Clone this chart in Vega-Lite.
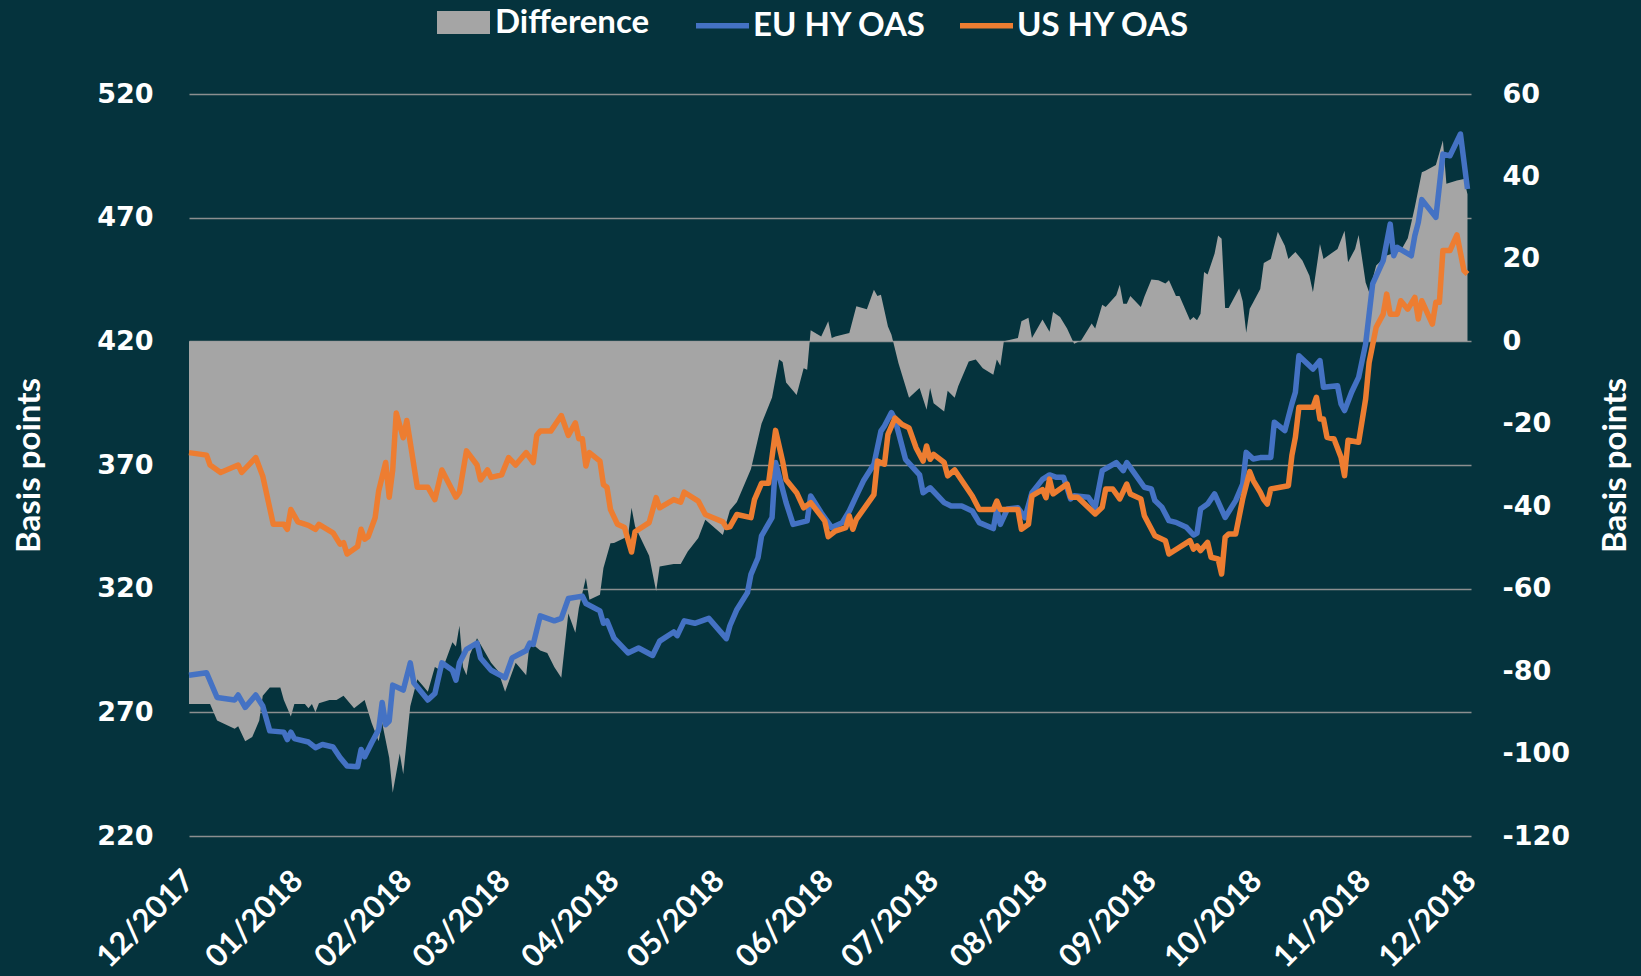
{
"$schema": "https://vega.github.io/schema/vega-lite/v6.json",
"width": 1282, "height": 742,
"autosize": {"type": "none"},
"padding": {"left": 189, "top": 94, "right": 170, "bottom": 140},
"background": "#05333d",
"config": {"view": {"stroke": null}, "font": "Lato"},
"datasets": {
"diff": [
{"date":"2017-12-01","diff":-88},{"date":"2017-12-07","diff":-88},{"date":"2017-12-09","diff":-92},{"date":"2017-12-14","diff":-94},{"date":"2017-12-15","diff":-93.4},{"date":"2017-12-17","diff":-97},{"date":"2017-12-19","diff":-96},{"date":"2017-12-21","diff":-92},{"date":"2017-12-22","diff":-86},{"date":"2017-12-24","diff":-84},{"date":"2017-12-27","diff":-84},{"date":"2017-12-28","diff":-87},{"date":"2017-12-30","diff":-91},{"date":"2017-12-31","diff":-88},
{"date":"2018-01-03","diff":-88},{"date":"2018-01-04","diff":-89},{"date":"2018-01-05","diff":-88},{"date":"2018-01-06","diff":-90},{"date":"2018-01-07","diff":-87.8},{"date":"2018-01-10","diff":-87},{"date":"2018-01-12","diff":-87},{"date":"2018-01-14","diff":-86},{"date":"2018-01-17","diff":-89},{"date":"2018-01-20","diff":-87},{"date":"2018-01-22","diff":-92.6},{"date":"2018-01-24","diff":-97},{"date":"2018-01-25","diff":-92.6},{"date":"2018-01-27","diff":-101},{"date":"2018-01-28","diff":-109.5},{"date":"2018-01-30","diff":-100},{"date":"2018-01-31","diff":-105},
{"date":"2018-02-02","diff":-88.5},{"date":"2018-02-04","diff":-82},{"date":"2018-02-06","diff":-84},{"date":"2018-02-07","diff":-85},{"date":"2018-02-09","diff":-79},{"date":"2018-02-11","diff":-80},{"date":"2018-02-14","diff":-73},{"date":"2018-02-15","diff":-74},{"date":"2018-02-16","diff":-69},{"date":"2018-02-17","diff":-79},{"date":"2018-02-18","diff":-81},{"date":"2018-02-19","diff":-76},{"date":"2018-02-21","diff":-72},{"date":"2018-02-23","diff":-75},{"date":"2018-02-25","diff":-78},{"date":"2018-02-27","diff":-80},
{"date":"2018-03-01","diff":-85},{"date":"2018-03-04","diff":-78},{"date":"2018-03-07","diff":-81},{"date":"2018-03-08","diff":-73},{"date":"2018-03-09","diff":-73.6},{"date":"2018-03-11","diff":-75},{"date":"2018-03-13","diff":-75.6},{"date":"2018-03-15","diff":-79},{"date":"2018-03-17","diff":-81.6},{"date":"2018-03-19","diff":-66},{"date":"2018-03-21","diff":-70.7},{"date":"2018-03-22","diff":-64.7},{"date":"2018-03-24","diff":-57.4},{"date":"2018-03-25","diff":-62.7},{"date":"2018-03-28","diff":-61.5},{"date":"2018-03-29","diff":-55},{"date":"2018-03-31","diff":-49},
{"date":"2018-04-01","diff":-48.9},{"date":"2018-04-05","diff":-47.3},{"date":"2018-04-06","diff":-40.4},{"date":"2018-04-07","diff":-44.9},{"date":"2018-04-11","diff":-52},{"date":"2018-04-13","diff":-60.6},{"date":"2018-04-14","diff":-54.6},{"date":"2018-04-18","diff":-54},{"date":"2018-04-20","diff":-54},{"date":"2018-04-22","diff":-51},{"date":"2018-04-25","diff":-47.7},{"date":"2018-04-27","diff":-43.3},
{"date":"2018-05-02","diff":-47},{"date":"2018-05-04","diff":-41},{"date":"2018-05-06","diff":-39},{"date":"2018-05-10","diff":-31},{"date":"2018-05-13","diff":-20},{"date":"2018-05-16","diff":-13.6},{"date":"2018-05-18","diff":-4.4},{"date":"2018-05-19","diff":-5},{"date":"2018-05-20","diff":-10},{"date":"2018-05-23","diff":-13},{"date":"2018-05-25","diff":-6.5},{"date":"2018-05-26","diff":-6.9},{"date":"2018-05-27","diff":2.7},{"date":"2018-05-30","diff":1.2},
{"date":"2018-06-01","diff":4.9},{"date":"2018-06-02","diff":0.8},{"date":"2018-06-03","diff":1.2},{"date":"2018-06-07","diff":2},{"date":"2018-06-09","diff":8.5},{"date":"2018-06-12","diff":7.8},{"date":"2018-06-14","diff":12.5},{"date":"2018-06-15","diff":11},{"date":"2018-06-16","diff":11.3},{"date":"2018-06-18","diff":3.6},{"date":"2018-06-19","diff":1.6},{"date":"2018-06-21","diff":-5.3},{"date":"2018-06-24","diff":-13.7},{"date":"2018-06-27","diff":-11.3},{"date":"2018-06-29","diff":-16.6},{"date":"2018-06-30","diff":-11.3},
{"date":"2018-07-01","diff":-15},{"date":"2018-07-04","diff":-17},{"date":"2018-07-05","diff":-12},{"date":"2018-07-07","diff":-13.7},{"date":"2018-07-08","diff":-10.9},{"date":"2018-07-11","diff":-4.9},{"date":"2018-07-13","diff":-4.4},{"date":"2018-07-15","diff":-6.5},{"date":"2018-07-18","diff":-8.1},{"date":"2018-07-19","diff":-4.4},{"date":"2018-07-20","diff":-5.9},{"date":"2018-07-21","diff":0},{"date":"2018-07-25","diff":0.8},{"date":"2018-07-26","diff":4.9},{"date":"2018-07-28","diff":5.7},{"date":"2018-07-29","diff":0.8},
{"date":"2018-08-01","diff":5.3},{"date":"2018-08-03","diff":2.3},{"date":"2018-08-04","diff":7.1},{"date":"2018-08-06","diff":5.9},{"date":"2018-08-08","diff":3.1},{"date":"2018-08-10","diff":-0.6},{"date":"2018-08-12","diff":0.2},{"date":"2018-08-15","diff":4.3},{"date":"2018-08-16","diff":3.1},{"date":"2018-08-18","diff":8.9},{"date":"2018-08-19","diff":8.3},{"date":"2018-08-22","diff":11.2},{"date":"2018-08-23","diff":13.7},{"date":"2018-08-24","diff":9.1},{"date":"2018-08-25","diff":9.1},{"date":"2018-08-26","diff":11},{"date":"2018-08-29","diff":8.3},{"date":"2018-08-30","diff":10.8},
{"date":"2018-09-01","diff":15},{"date":"2018-09-03","diff":14.8},{"date":"2018-09-05","diff":14},{"date":"2018-09-06","diff":14.8},{"date":"2018-09-08","diff":11},{"date":"2018-09-09","diff":11},{"date":"2018-09-12","diff":5.1},{"date":"2018-09-13","diff":5.9},{"date":"2018-09-14","diff":5.1},{"date":"2018-09-15","diff":6.7},{"date":"2018-09-16","diff":16.8},{"date":"2018-09-17","diff":16.2},{"date":"2018-09-19","diff":21.3},{"date":"2018-09-20","diff":25.7},{"date":"2018-09-21","diff":24.9},{"date":"2018-09-22","diff":8.1},{"date":"2018-09-23","diff":8.1},{"date":"2018-09-26","diff":12.9},{"date":"2018-09-27","diff":9.7},{"date":"2018-09-28","diff":2.1},{"date":"2018-09-29","diff":7.9},{"date":"2018-09-30","diff":9.5},
{"date":"2018-10-02","diff":12.7},{"date":"2018-10-03","diff":19},{"date":"2018-10-05","diff":20},{"date":"2018-10-07","diff":26.6},{"date":"2018-10-09","diff":23.2},{"date":"2018-10-10","diff":20},{"date":"2018-10-12","diff":21.7},{"date":"2018-10-14","diff":19.6},{"date":"2018-10-16","diff":15.9},{"date":"2018-10-17","diff":11.9},{"date":"2018-10-19","diff":23.6},{"date":"2018-10-20","diff":20},{"date":"2018-10-24","diff":22.4},{"date":"2018-10-26","diff":26.8},{"date":"2018-10-27","diff":19.2},{"date":"2018-10-29","diff":22.4},{"date":"2018-10-30","diff":25.8},
{"date":"2018-11-01","diff":14.3},{"date":"2018-11-02","diff":11.9},{"date":"2018-11-04","diff":18.4},{"date":"2018-11-07","diff":20.8},{"date":"2018-11-11","diff":22},{"date":"2018-11-13","diff":25},{"date":"2018-11-15","diff":32.5},{"date":"2018-11-17","diff":41},{"date":"2018-11-18","diff":41.4},{"date":"2018-11-21","diff":42.8},{"date":"2018-11-23","diff":48.7},{"date":"2018-11-24","diff":38.2},{"date":"2018-11-27","diff":39},{"date":"2018-11-29","diff":39.4},{"date":"2018-11-30","diff":35.7}
],
"lines": [
{"date":"2017-12-01","series":"EU HY OAS","bp":285},{"date":"2017-12-06","series":"EU HY OAS","bp":286},{"date":"2017-12-09","series":"EU HY OAS","bp":276},{"date":"2017-12-14","series":"EU HY OAS","bp":275},{"date":"2017-12-15","series":"EU HY OAS","bp":277},{"date":"2017-12-17","series":"EU HY OAS","bp":272},{"date":"2017-12-20","series":"EU HY OAS","bp":277},{"date":"2017-12-22","series":"EU HY OAS","bp":272.6},{"date":"2017-12-24","series":"EU HY OAS","bp":262.5},{"date":"2017-12-28","series":"EU HY OAS","bp":262},{"date":"2017-12-29","series":"EU HY OAS","bp":259},{"date":"2017-12-30","series":"EU HY OAS","bp":262},{"date":"2017-12-31","series":"EU HY OAS","bp":259.4},
{"date":"2018-01-04","series":"EU HY OAS","bp":258},{"date":"2018-01-06","series":"EU HY OAS","bp":255.7},{"date":"2018-01-08","series":"EU HY OAS","bp":257},{"date":"2018-01-11","series":"EU HY OAS","bp":256},{"date":"2018-01-13","series":"EU HY OAS","bp":251.7},{"date":"2018-01-15","series":"EU HY OAS","bp":248.3},{"date":"2018-01-18","series":"EU HY OAS","bp":248},{"date":"2018-01-19","series":"EU HY OAS","bp":255},{"date":"2018-01-20","series":"EU HY OAS","bp":252},{"date":"2018-01-22","series":"EU HY OAS","bp":257.7},{"date":"2018-01-24","series":"EU HY OAS","bp":263},{"date":"2018-01-25","series":"EU HY OAS","bp":274},{"date":"2018-01-26","series":"EU HY OAS","bp":265},{"date":"2018-01-27","series":"EU HY OAS","bp":266.5},{"date":"2018-01-28","series":"EU HY OAS","bp":281},{"date":"2018-01-31","series":"EU HY OAS","bp":279},
{"date":"2018-02-02","series":"EU HY OAS","bp":290},{"date":"2018-02-03","series":"EU HY OAS","bp":282},{"date":"2018-02-07","series":"EU HY OAS","bp":275},{"date":"2018-02-09","series":"EU HY OAS","bp":277.6},{"date":"2018-02-11","series":"EU HY OAS","bp":290},{"date":"2018-02-14","series":"EU HY OAS","bp":287},{"date":"2018-02-15","series":"EU HY OAS","bp":283},{"date":"2018-02-16","series":"EU HY OAS","bp":290},{"date":"2018-02-18","series":"EU HY OAS","bp":295.5},{"date":"2018-02-21","series":"EU HY OAS","bp":298},{"date":"2018-02-22","series":"EU HY OAS","bp":292},{"date":"2018-02-25","series":"EU HY OAS","bp":287},
{"date":"2018-03-01","series":"EU HY OAS","bp":284},{"date":"2018-03-03","series":"EU HY OAS","bp":292},{"date":"2018-03-07","series":"EU HY OAS","bp":295},{"date":"2018-03-08","series":"EU HY OAS","bp":298},{"date":"2018-03-09","series":"EU HY OAS","bp":297.5},{"date":"2018-03-11","series":"EU HY OAS","bp":309},{"date":"2018-03-15","series":"EU HY OAS","bp":307},{"date":"2018-03-17","series":"EU HY OAS","bp":308},{"date":"2018-03-19","series":"EU HY OAS","bp":316},{"date":"2018-03-23","series":"EU HY OAS","bp":317},{"date":"2018-03-24","series":"EU HY OAS","bp":314},{"date":"2018-03-28","series":"EU HY OAS","bp":311},{"date":"2018-03-29","series":"EU HY OAS","bp":306},{"date":"2018-03-30","series":"EU HY OAS","bp":307},
{"date":"2018-04-01","series":"EU HY OAS","bp":300},{"date":"2018-04-05","series":"EU HY OAS","bp":294},{"date":"2018-04-08","series":"EU HY OAS","bp":296},{"date":"2018-04-12","series":"EU HY OAS","bp":293},{"date":"2018-04-14","series":"EU HY OAS","bp":298.8},{"date":"2018-04-18","series":"EU HY OAS","bp":302.5},{"date":"2018-04-19","series":"EU HY OAS","bp":301},{"date":"2018-04-21","series":"EU HY OAS","bp":307},{"date":"2018-04-24","series":"EU HY OAS","bp":306},{"date":"2018-04-26","series":"EU HY OAS","bp":307},{"date":"2018-04-28","series":"EU HY OAS","bp":308},
{"date":"2018-05-03","series":"EU HY OAS","bp":299.8},{"date":"2018-05-04","series":"EU HY OAS","bp":305},{"date":"2018-05-06","series":"EU HY OAS","bp":311.6},{"date":"2018-05-09","series":"EU HY OAS","bp":318.4},{"date":"2018-05-10","series":"EU HY OAS","bp":325.8},{"date":"2018-05-12","series":"EU HY OAS","bp":332.5},{"date":"2018-05-13","series":"EU HY OAS","bp":341.3},{"date":"2018-05-16","series":"EU HY OAS","bp":348.7},{"date":"2018-05-17","series":"EU HY OAS","bp":371},{"date":"2018-05-20","series":"EU HY OAS","bp":354.8},{"date":"2018-05-22","series":"EU HY OAS","bp":346},{"date":"2018-05-26","series":"EU HY OAS","bp":347.4},{"date":"2018-05-27","series":"EU HY OAS","bp":357.5},{"date":"2018-05-30","series":"EU HY OAS","bp":350.7},
{"date":"2018-06-02","series":"EU HY OAS","bp":344.7},{"date":"2018-06-05","series":"EU HY OAS","bp":346.7},{"date":"2018-06-07","series":"EU HY OAS","bp":351.4},{"date":"2018-06-09","series":"EU HY OAS","bp":357.5},{"date":"2018-06-11","series":"EU HY OAS","bp":363.5},{"date":"2018-06-14","series":"EU HY OAS","bp":370.3},{"date":"2018-06-16","series":"EU HY OAS","bp":383.7},{"date":"2018-06-17","series":"EU HY OAS","bp":385.8},{"date":"2018-06-19","series":"EU HY OAS","bp":391.2},{"date":"2018-06-20","series":"EU HY OAS","bp":388.5},{"date":"2018-06-23","series":"EU HY OAS","bp":372.3},{"date":"2018-06-27","series":"EU HY OAS","bp":366},{"date":"2018-06-28","series":"EU HY OAS","bp":358.8},{"date":"2018-06-30","series":"EU HY OAS","bp":360.8},
{"date":"2018-07-04","series":"EU HY OAS","bp":354.8},{"date":"2018-07-06","series":"EU HY OAS","bp":353.4},{"date":"2018-07-09","series":"EU HY OAS","bp":353.4},{"date":"2018-07-12","series":"EU HY OAS","bp":351.4},{"date":"2018-07-14","series":"EU HY OAS","bp":346.7},{"date":"2018-07-18","series":"EU HY OAS","bp":344.3},{"date":"2018-07-19","series":"EU HY OAS","bp":352},{"date":"2018-07-20","series":"EU HY OAS","bp":346},{"date":"2018-07-22","series":"EU HY OAS","bp":352.2},{"date":"2018-07-25","series":"EU HY OAS","bp":352.7},{"date":"2018-07-27","series":"EU HY OAS","bp":348.7},{"date":"2018-07-29","series":"EU HY OAS","bp":358.8},
{"date":"2018-08-01","series":"EU HY OAS","bp":364.2},{"date":"2018-08-03","series":"EU HY OAS","bp":366},{"date":"2018-08-05","series":"EU HY OAS","bp":365},{"date":"2018-08-07","series":"EU HY OAS","bp":365},{"date":"2018-08-09","series":"EU HY OAS","bp":356.3},{"date":"2018-08-10","series":"EU HY OAS","bp":357.6},{"date":"2018-08-14","series":"EU HY OAS","bp":357},{"date":"2018-08-16","series":"EU HY OAS","bp":352.9},{"date":"2018-08-18","series":"EU HY OAS","bp":367.7},{"date":"2018-08-22","series":"EU HY OAS","bp":371},{"date":"2018-08-24","series":"EU HY OAS","bp":367.7},{"date":"2018-08-25","series":"EU HY OAS","bp":371},{"date":"2018-08-27","series":"EU HY OAS","bp":367},{"date":"2018-08-30","series":"EU HY OAS","bp":361},
{"date":"2018-09-01","series":"EU HY OAS","bp":360.3},{"date":"2018-09-02","series":"EU HY OAS","bp":355.6},{"date":"2018-09-04","series":"EU HY OAS","bp":352.9},{"date":"2018-09-06","series":"EU HY OAS","bp":347.5},{"date":"2018-09-08","series":"EU HY OAS","bp":346.8},{"date":"2018-09-11","series":"EU HY OAS","bp":344.8},{"date":"2018-09-13","series":"EU HY OAS","bp":341.7},{"date":"2018-09-14","series":"EU HY OAS","bp":342.5},{"date":"2018-09-15","series":"EU HY OAS","bp":352.2},{"date":"2018-09-17","series":"EU HY OAS","bp":354.2},{"date":"2018-09-19","series":"EU HY OAS","bp":358.3},{"date":"2018-09-22","series":"EU HY OAS","bp":348.8},{"date":"2018-09-25","series":"EU HY OAS","bp":355.6},{"date":"2018-09-27","series":"EU HY OAS","bp":362.3},{"date":"2018-09-28","series":"EU HY OAS","bp":375.1},{"date":"2018-09-30","series":"EU HY OAS","bp":372.4},
{"date":"2018-10-02","series":"EU HY OAS","bp":373},{"date":"2018-10-05","series":"EU HY OAS","bp":373},{"date":"2018-10-06","series":"EU HY OAS","bp":387.3},{"date":"2018-10-09","series":"EU HY OAS","bp":383.9},{"date":"2018-10-11","series":"EU HY OAS","bp":394.7},{"date":"2018-10-12","series":"EU HY OAS","bp":399.4},{"date":"2018-10-13","series":"EU HY OAS","bp":414.2},{"date":"2018-10-17","series":"EU HY OAS","bp":408.8},{"date":"2018-10-19","series":"EU HY OAS","bp":412.2},{"date":"2018-10-20","series":"EU HY OAS","bp":401.4},{"date":"2018-10-24","series":"EU HY OAS","bp":402},{"date":"2018-10-25","series":"EU HY OAS","bp":394.7},{"date":"2018-10-26","series":"EU HY OAS","bp":392},{"date":"2018-10-28","series":"EU HY OAS","bp":399.4},{"date":"2018-10-30","series":"EU HY OAS","bp":405.4},
{"date":"2018-11-01","series":"EU HY OAS","bp":418.9},{"date":"2018-11-03","series":"EU HY OAS","bp":443.2},{"date":"2018-11-06","series":"EU HY OAS","bp":452.6},{"date":"2018-11-08","series":"EU HY OAS","bp":467.4},{"date":"2018-11-09","series":"EU HY OAS","bp":454.6},{"date":"2018-11-10","series":"EU HY OAS","bp":458},{"date":"2018-11-14","series":"EU HY OAS","bp":454.6},{"date":"2018-11-15","series":"EU HY OAS","bp":462.7},{"date":"2018-11-16","series":"EU HY OAS","bp":468.1},{"date":"2018-11-17","series":"EU HY OAS","bp":477.3},{"date":"2018-11-21","series":"EU HY OAS","bp":470.1},{"date":"2018-11-23","series":"EU HY OAS","bp":495.7},{"date":"2018-11-25","series":"EU HY OAS","bp":495},{"date":"2018-11-28","series":"EU HY OAS","bp":503.8},{"date":"2018-11-30","series":"EU HY OAS","bp":481.6},
{"date":"2017-12-01","series":"US HY OAS","bp":375},{"date":"2017-12-06","series":"US HY OAS","bp":374},{"date":"2017-12-07","series":"US HY OAS","bp":370},{"date":"2017-12-10","series":"US HY OAS","bp":367},{"date":"2017-12-15","series":"US HY OAS","bp":370},{"date":"2017-12-16","series":"US HY OAS","bp":367},{"date":"2017-12-20","series":"US HY OAS","bp":373},{"date":"2017-12-22","series":"US HY OAS","bp":365.5},{"date":"2017-12-25","series":"US HY OAS","bp":346},{"date":"2017-12-28","series":"US HY OAS","bp":346},{"date":"2017-12-29","series":"US HY OAS","bp":344},{"date":"2017-12-30","series":"US HY OAS","bp":352},
{"date":"2018-01-01","series":"US HY OAS","bp":347},{"date":"2018-01-04","series":"US HY OAS","bp":345.6},{"date":"2018-01-06","series":"US HY OAS","bp":344},{"date":"2018-01-07","series":"US HY OAS","bp":346},{"date":"2018-01-11","series":"US HY OAS","bp":342.6},{"date":"2018-01-13","series":"US HY OAS","bp":338},{"date":"2018-01-14","series":"US HY OAS","bp":338.6},{"date":"2018-01-15","series":"US HY OAS","bp":334},{"date":"2018-01-18","series":"US HY OAS","bp":337},{"date":"2018-01-19","series":"US HY OAS","bp":344},{"date":"2018-01-20","series":"US HY OAS","bp":340},{"date":"2018-01-21","series":"US HY OAS","bp":341},{"date":"2018-01-23","series":"US HY OAS","bp":348.7},{"date":"2018-01-24","series":"US HY OAS","bp":359.5},{"date":"2018-01-26","series":"US HY OAS","bp":371},{"date":"2018-01-27","series":"US HY OAS","bp":357},{"date":"2018-01-28","series":"US HY OAS","bp":368},{"date":"2018-01-29","series":"US HY OAS","bp":391},{"date":"2018-01-31","series":"US HY OAS","bp":381},
{"date":"2018-02-01","series":"US HY OAS","bp":388},{"date":"2018-02-04","series":"US HY OAS","bp":361},{"date":"2018-02-07","series":"US HY OAS","bp":361},{"date":"2018-02-09","series":"US HY OAS","bp":356},{"date":"2018-02-11","series":"US HY OAS","bp":368},{"date":"2018-02-15","series":"US HY OAS","bp":357},{"date":"2018-02-16","series":"US HY OAS","bp":359},{"date":"2018-02-18","series":"US HY OAS","bp":375.7},{"date":"2018-02-21","series":"US HY OAS","bp":370},{"date":"2018-02-22","series":"US HY OAS","bp":364},{"date":"2018-02-24","series":"US HY OAS","bp":368},{"date":"2018-02-25","series":"US HY OAS","bp":365},{"date":"2018-02-28","series":"US HY OAS","bp":366},
{"date":"2018-03-02","series":"US HY OAS","bp":373},{"date":"2018-03-04","series":"US HY OAS","bp":370},{"date":"2018-03-07","series":"US HY OAS","bp":375},{"date":"2018-03-09","series":"US HY OAS","bp":371},{"date":"2018-03-10","series":"US HY OAS","bp":382},{"date":"2018-03-11","series":"US HY OAS","bp":383.7},{"date":"2018-03-14","series":"US HY OAS","bp":383.7},{"date":"2018-03-17","series":"US HY OAS","bp":390},{"date":"2018-03-19","series":"US HY OAS","bp":382},{"date":"2018-03-21","series":"US HY OAS","bp":387},{"date":"2018-03-22","series":"US HY OAS","bp":380.6},{"date":"2018-03-23","series":"US HY OAS","bp":380.6},{"date":"2018-03-24","series":"US HY OAS","bp":369.6},{"date":"2018-03-25","series":"US HY OAS","bp":375},{"date":"2018-03-28","series":"US HY OAS","bp":371.6},{"date":"2018-03-29","series":"US HY OAS","bp":362},{"date":"2018-03-30","series":"US HY OAS","bp":361},{"date":"2018-03-31","series":"US HY OAS","bp":352},
{"date":"2018-04-02","series":"US HY OAS","bp":346},{"date":"2018-04-04","series":"US HY OAS","bp":344.7},{"date":"2018-04-06","series":"US HY OAS","bp":334.8},{"date":"2018-04-07","series":"US HY OAS","bp":343},{"date":"2018-04-11","series":"US HY OAS","bp":346.7},{"date":"2018-04-13","series":"US HY OAS","bp":356.8},{"date":"2018-04-14","series":"US HY OAS","bp":352.7},{"date":"2018-04-18","series":"US HY OAS","bp":356},{"date":"2018-04-20","series":"US HY OAS","bp":355},{"date":"2018-04-21","series":"US HY OAS","bp":359},{"date":"2018-04-25","series":"US HY OAS","bp":355.4},{"date":"2018-04-27","series":"US HY OAS","bp":350},
{"date":"2018-05-02","series":"US HY OAS","bp":347},{"date":"2018-05-03","series":"US HY OAS","bp":344.7},{"date":"2018-05-04","series":"US HY OAS","bp":345},{"date":"2018-05-06","series":"US HY OAS","bp":350},{"date":"2018-05-10","series":"US HY OAS","bp":348.7},{"date":"2018-05-11","series":"US HY OAS","bp":356},{"date":"2018-05-13","series":"US HY OAS","bp":362.6},{"date":"2018-05-15","series":"US HY OAS","bp":362.6},{"date":"2018-05-17","series":"US HY OAS","bp":384},{"date":"2018-05-19","series":"US HY OAS","bp":371.6},{"date":"2018-05-20","series":"US HY OAS","bp":364},{"date":"2018-05-23","series":"US HY OAS","bp":358.8},{"date":"2018-05-25","series":"US HY OAS","bp":352.7},{"date":"2018-05-27","series":"US HY OAS","bp":354.8},{"date":"2018-05-31","series":"US HY OAS","bp":347.4},
{"date":"2018-06-01","series":"US HY OAS","bp":341},{"date":"2018-06-03","series":"US HY OAS","bp":343.3},{"date":"2018-06-06","series":"US HY OAS","bp":344.7},{"date":"2018-06-07","series":"US HY OAS","bp":349.4},{"date":"2018-06-08","series":"US HY OAS","bp":344},{"date":"2018-06-09","series":"US HY OAS","bp":348},{"date":"2018-06-14","series":"US HY OAS","bp":358},{"date":"2018-06-15","series":"US HY OAS","bp":371.6},{"date":"2018-06-17","series":"US HY OAS","bp":370.3},{"date":"2018-06-18","series":"US HY OAS","bp":382.4},{"date":"2018-06-20","series":"US HY OAS","bp":389},{"date":"2018-06-22","series":"US HY OAS","bp":386.4},{"date":"2018-06-24","series":"US HY OAS","bp":385},{"date":"2018-06-26","series":"US HY OAS","bp":377},{"date":"2018-06-28","series":"US HY OAS","bp":371.6},{"date":"2018-06-29","series":"US HY OAS","bp":377.7},{"date":"2018-06-30","series":"US HY OAS","bp":372.3},
{"date":"2018-07-01","series":"US HY OAS","bp":374.3},{"date":"2018-07-04","series":"US HY OAS","bp":371},{"date":"2018-07-05","series":"US HY OAS","bp":365.6},{"date":"2018-07-07","series":"US HY OAS","bp":368},{"date":"2018-07-12","series":"US HY OAS","bp":357.5},{"date":"2018-07-14","series":"US HY OAS","bp":352},{"date":"2018-07-18","series":"US HY OAS","bp":352},{"date":"2018-07-19","series":"US HY OAS","bp":355.4},{"date":"2018-07-20","series":"US HY OAS","bp":352},{"date":"2018-07-25","series":"US HY OAS","bp":352},{"date":"2018-07-26","series":"US HY OAS","bp":344},{"date":"2018-07-28","series":"US HY OAS","bp":346},{"date":"2018-07-29","series":"US HY OAS","bp":357.5},
{"date":"2018-08-01","series":"US HY OAS","bp":360},{"date":"2018-08-02","series":"US HY OAS","bp":356.8},{"date":"2018-08-03","series":"US HY OAS","bp":364.3},{"date":"2018-08-04","series":"US HY OAS","bp":358.3},{"date":"2018-08-08","series":"US HY OAS","bp":362.3},{"date":"2018-08-09","series":"US HY OAS","bp":357},{"date":"2018-08-11","series":"US HY OAS","bp":357},{"date":"2018-08-14","series":"US HY OAS","bp":352.9},{"date":"2018-08-16","series":"US HY OAS","bp":350.2},{"date":"2018-08-18","series":"US HY OAS","bp":352.9},{"date":"2018-08-19","series":"US HY OAS","bp":360.3},{"date":"2018-08-21","series":"US HY OAS","bp":360.3},{"date":"2018-08-23","series":"US HY OAS","bp":356.3},{"date":"2018-08-25","series":"US HY OAS","bp":362.3},{"date":"2018-08-26","series":"US HY OAS","bp":358.3},{"date":"2018-08-29","series":"US HY OAS","bp":356.3},{"date":"2018-08-30","series":"US HY OAS","bp":349.5},
{"date":"2018-09-02","series":"US HY OAS","bp":341.4},{"date":"2018-09-05","series":"US HY OAS","bp":339.4},{"date":"2018-09-06","series":"US HY OAS","bp":334},{"date":"2018-09-12","series":"US HY OAS","bp":339.4},{"date":"2018-09-13","series":"US HY OAS","bp":336},{"date":"2018-09-14","series":"US HY OAS","bp":337.3},{"date":"2018-09-15","series":"US HY OAS","bp":335.4},{"date":"2018-09-17","series":"US HY OAS","bp":338.7},{"date":"2018-09-18","series":"US HY OAS","bp":332.7},{"date":"2018-09-20","series":"US HY OAS","bp":332},{"date":"2018-09-21","series":"US HY OAS","bp":325.9},{"date":"2018-09-22","series":"US HY OAS","bp":340.8},{"date":"2018-09-23","series":"US HY OAS","bp":342.1},{"date":"2018-09-25","series":"US HY OAS","bp":342.1},{"date":"2018-09-27","series":"US HY OAS","bp":356.3},{"date":"2018-09-29","series":"US HY OAS","bp":367.3},{"date":"2018-09-30","series":"US HY OAS","bp":363.7},
{"date":"2018-10-02","series":"US HY OAS","bp":359},{"date":"2018-10-03","series":"US HY OAS","bp":356},{"date":"2018-10-04","series":"US HY OAS","bp":354.2},{"date":"2018-10-05","series":"US HY OAS","bp":360.3},{"date":"2018-10-10","series":"US HY OAS","bp":361.6},{"date":"2018-10-11","series":"US HY OAS","bp":373.8},{"date":"2018-10-12","series":"US HY OAS","bp":381.2},{"date":"2018-10-13","series":"US HY OAS","bp":393.3},{"date":"2018-10-17","series":"US HY OAS","bp":393.3},{"date":"2018-10-18","series":"US HY OAS","bp":397.4},{"date":"2018-10-19","series":"US HY OAS","bp":388.6},{"date":"2018-10-20","series":"US HY OAS","bp":388.6},{"date":"2018-10-21","series":"US HY OAS","bp":381.2},{"date":"2018-10-23","series":"US HY OAS","bp":380.5},{"date":"2018-10-25","series":"US HY OAS","bp":373.1},{"date":"2018-10-26","series":"US HY OAS","bp":365.7},{"date":"2018-10-27","series":"US HY OAS","bp":380},{"date":"2018-10-30","series":"US HY OAS","bp":379.2},
{"date":"2018-11-01","series":"US HY OAS","bp":396.7},{"date":"2018-11-02","series":"US HY OAS","bp":411.5},{"date":"2018-11-04","series":"US HY OAS","bp":425.7},{"date":"2018-11-06","series":"US HY OAS","bp":431},{"date":"2018-11-07","series":"US HY OAS","bp":439.1},{"date":"2018-11-08","series":"US HY OAS","bp":431},{"date":"2018-11-10","series":"US HY OAS","bp":431},{"date":"2018-11-11","series":"US HY OAS","bp":436.4},{"date":"2018-11-13","series":"US HY OAS","bp":433},{"date":"2018-11-15","series":"US HY OAS","bp":437.8},{"date":"2018-11-16","series":"US HY OAS","bp":429},{"date":"2018-11-17","series":"US HY OAS","bp":436.4},{"date":"2018-11-20","series":"US HY OAS","bp":427},{"date":"2018-11-21","series":"US HY OAS","bp":435.8},{"date":"2018-11-22","series":"US HY OAS","bp":435.8},{"date":"2018-11-23","series":"US HY OAS","bp":456.7},{"date":"2018-11-25","series":"US HY OAS","bp":456.7},{"date":"2018-11-27","series":"US HY OAS","bp":463},{"date":"2018-11-29","series":"US HY OAS","bp":448.6},{"date":"2018-11-30","series":"US HY OAS","bp":447.2}
]
},
"layer": [
{
"data": {"name": "diff"},
"mark": {"type": "area", "color": "#a5a5a5", "opacity": 1},
"encoding": {
"x": {"field": "date", "type": "temporal",
  "scale": {"type": "utc", "domain": [{"year": 2017, "month": 12, "date": 1, "utc": true}, {"year": 2018, "month": 12, "date": 1, "utc": true}]},
  "axis": {"orient": "bottom", "tickCount": {"interval": "month", "step": 1}, "labelExpr": "utcFormat(datum.value, '%m/%Y')", "labelAngle": -45, "labelAlign": "right", "labelBaseline": "middle", "labelFont": "Lato", "labelFontWeight": "bold", "labelFontSize": 31, "labelColor": "#ffffff", "labelPadding": 40, "labelFlush": false, "labelOverlap": false, "labelBound": false, "ticks": false, "domain": false, "grid": false, "title": null}},
"y": {"field": "diff", "type": "quantitative",
  "scale": {"domain": [-120, 60], "nice": false, "zero": false},
  "axis": {"orient": "right", "values": [-120, -100, -80, -60, -40, -20, 0, 20, 40, 60], "labelExpr": "'' + datum.value", "grid": false, "domain": false, "ticks": false, "labelFont": "DejaVu Sans", "labelFontWeight": "bold", "labelFontSize": 27, "labelColor": "#ffffff", "labelPadding": 31, "labelAlign": "left", "title": "Basis points", "titleFont": "Lato", "titleFontSize": 33, "titleFontWeight": "bold", "titleColor": "#ffffff", "titleAngle": -90, "titleX": 144, "titleY": 371, "titleAlign": "center", "titleBaseline": "middle"}},
"y2": {"datum": 0},
"fill": {"datum": "Difference", "type": "nominal",
  "scale": {"domain": ["Difference"], "range": ["#a5a5a5"]},
  "legend": {"orient": "none", "legendX": 248, "legendY": -98, "title": null, "symbolType": "M-1,-0.43H1V0.43H-1Z", "symbolSize": 2809, "symbolStrokeWidth": 0, "symbolOpacity": 1, "labelFont": "Lato", "labelFontWeight": "bold", "labelFontSize": 33, "labelColor": "#ffffff", "labelOffset": 5, "labelLimit": 0, "padding": 0}}
}
},
{
"data": {"name": "lines"},
"mark": {"type": "line", "strokeWidth": 5.5, "strokeJoin": "round"},
"encoding": {
"x": {"field": "date", "type": "temporal"},
"y": {"field": "bp", "type": "quantitative",
  "scale": {"domain": [220, 520], "nice": false, "zero": false},
  "axis": {"orient": "left", "values": [220, 270, 320, 370, 420, 470, 520], "grid": true, "gridColor": "#8c8f90", "gridWidth": 1.5, "domain": false, "ticks": false, "labelFont": "DejaVu Sans", "labelFontWeight": "bold", "labelFontSize": 27, "labelColor": "#ffffff", "labelPadding": 36, "title": "Basis points", "titleFont": "Lato", "titleFontSize": 33, "titleFontWeight": "bold", "titleColor": "#ffffff", "titleAngle": -90, "titleX": -160, "titleY": 371, "titleAlign": "center", "titleBaseline": "middle"}},
"stroke": {"field": "series", "type": "nominal",
  "scale": {"domain": ["EU HY OAS", "US HY OAS"], "range": ["#4472c4", "#ed7d31"]},
  "legend": {"orient": "none", "legendX": 504, "legendY": -98, "direction": "horizontal", "title": null, "symbolType": "stroke", "symbolSize": 2809, "symbolStrokeWidth": 5.5, "labelFont": "Lato", "labelFontWeight": "bold", "labelFontSize": 33, "labelColor": "#ffffff", "labelOffset": 1, "labelLimit": 0, "columnPadding": 22, "padding": 0}}
}
}
],
"resolve": {"scale": {"y": "independent"}}
}
